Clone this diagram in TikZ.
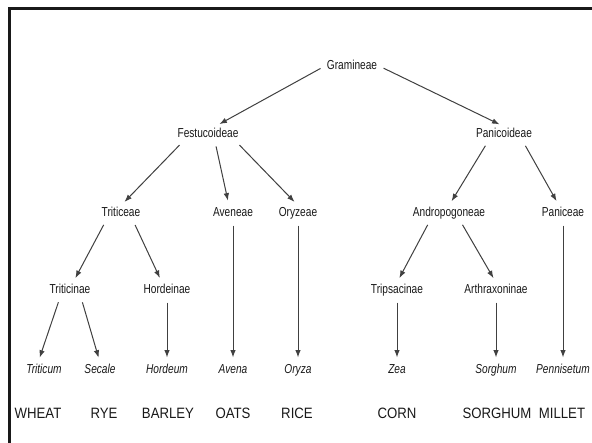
\documentclass[tikz,border=0pt]{standalone}
\usepackage{fontspec}
\setmainfont{Liberation Sans}
\newfontfamily\taxonfont[FakeStretch=0.78]{Liberation Sans}
\newfontfamily\cropfont[FakeStretch=0.88]{Liberation Sans}
\usetikzlibrary{arrows.meta}
\begin{document}
\begin{tikzpicture}[x=1pt,y=-1pt,
  every node/.style={inner sep=2pt,outer sep=0pt,text height=9pt,text depth=2pt,text=black!90},
  taxon/.style={font={\taxonfont\fontsize{13}{15}\selectfont}},
  genus/.style={font={\taxonfont\itshape\fontsize{13}{15}\selectfont}},
  crop/.style={font={\cropfont\fontsize{15}{17}\selectfont},text height=10pt},
  arr/.style={-{Latex[length=7.5pt,width=5.5pt]},line width=1pt,draw=black!75,shorten <=5pt,shorten >=5pt}]

\useasboundingbox (0,0) rectangle (592,442);

\begin{scope}

\clip (0,0) rectangle (592,442);

\fill [white] (0,0) rectangle (592,442);

\draw [line width=3pt,black!90] (9.5,460) -- (9.5,8.5) -- (610,8.5);

\end{scope}

% families and subfamilies
\node [taxon] (gram) at (352,66) {Gramineae};

\node [taxon] (festu) at (208,134) {Festucoideae};

\node [taxon] (pani) at (504,134) {Panicoideae};

% tribes
\node [taxon] (triti) at (121,213) {Triticeae};

\node [taxon] (aven) at (233,213) {Aveneae};

\node [taxon] (oryz) at (298,213) {Oryzeae};

\node [taxon] (andro) at (449,213) {Andropogoneae};

\node [taxon] (panic) at (563,213) {Paniceae};

% subtribes
\node [taxon] (tricin) at (70,290) {Triticinae};

\node [taxon] (hord) at (167,290) {Hordeinae};

\node [taxon] (trips) at (397,290) {Tripsacinae};

\node [taxon] (arthr) at (496,290) {Arthraxoninae};

% genera
\node [genus] (triticum) at (44,370) {Triticum};

\node [genus] (secale) at (100,370) {Secale};

\node [genus] (hordeum) at (167,370) {Hordeum};

\node [genus] (avena) at (233,370) {Avena};

\node [genus] (oryza) at (298,370) {Oryza};

\node [genus] (zea) at (397,370) {Zea};

\node [genus] (sorghum) at (496,370) {Sorghum};

\node [genus] (penni) at (563,370) {Pennisetum};

% common names
\node [crop] (wheat) at (38,414) {WHEAT};

\node [crop] (rye) at (104,414) {RYE};

\node [crop] (barley) at (168,414) {BARLEY};

\node [crop] (oats) at (233,414) {OATS};

\node [crop] (rice) at (297,414) {RICE};

\node [crop] (corn) at (397,414) {CORN};

\node [crop] (sorgh) at (497,414) {SORGHUM};

\node [crop] (millet) at (562,414) {MILLET};

% arrows
\draw [arr] (gram.west) -- ([xshift=7pt]festu.north);

\draw [arr] (gram.east) -- (pani.north);

\draw [arr] ([xshift=-25pt]festu.south) -- (triti.north);

\draw [arr] ([xshift=7pt]festu.south) -- ([xshift=-4pt]aven.north);

\draw [arr] ([xshift=28pt]festu.south) -- (oryz.north);

\draw [arr] ([xshift=-16pt]pani.south) -- (andro.north);

\draw [arr] ([xshift=19pt]pani.south) -- ([xshift=-4pt]panic.north);

\draw [arr] ([xshift=-15pt]triti.south) -- ([xshift=3pt]tricin.north);

\draw [arr] ([xshift=12pt]triti.south) -- ([xshift=-5pt]hord.north);

\draw [arr] ([xshift=-19pt]andro.south) -- (trips.north);

\draw [arr] ([xshift=11pt]andro.south) -- (arthr.north);

\draw [arr] (aven) -- (avena);

\draw [arr] (oryz) -- (oryza);

\draw [arr] (panic) -- (penni);

\draw [arr] ([xshift=-10pt]tricin.south) -- ([xshift=-6pt]triticum.north);

\draw [arr] ([xshift=11pt]tricin.south) -- (secale.north);

\draw [arr] (hord) -- (hordeum);

\draw [arr] (trips) -- (zea);

\draw [arr] (arthr) -- (sorghum);

\end{tikzpicture}
\end{document}
